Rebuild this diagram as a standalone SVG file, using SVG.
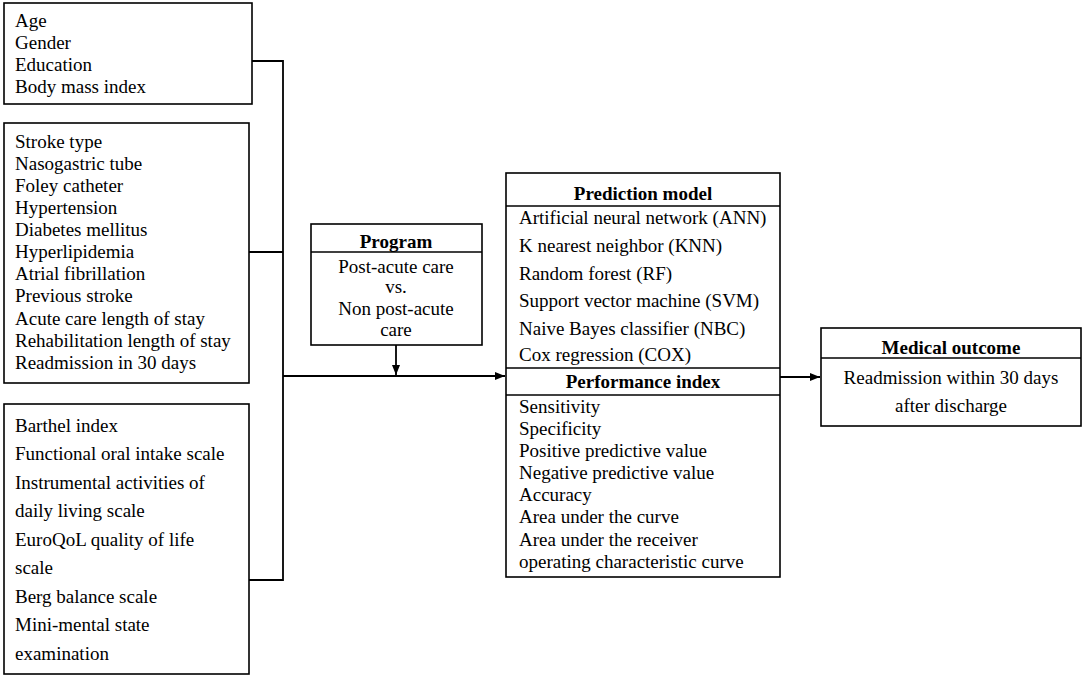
<svg xmlns="http://www.w3.org/2000/svg" width="1084" height="678" viewBox="0 0 1084 678">
<style>
rect.box{fill:#fff;stroke:#000;stroke-width:1.6}
line.div{stroke:#000;stroke-width:1.6}
text{font-family:"Liberation Serif","Times New Roman",serif;font-size:19px;fill:#000}
text.h{font-weight:bold;text-anchor:middle}
text.c{text-anchor:middle}
.conn{stroke:#000;stroke-width:1.8;fill:none}
</style>
<defs>
<marker id="arr" viewBox="0 0 10 10" refX="10" refY="5" markerWidth="10" markerHeight="10" markerUnits="userSpaceOnUse" orient="auto">
<path d="M0,1 L10,5 L0,9 Z" fill="#000"/>
</marker>
</defs>
<g id="connectors">
<polyline class="conn" points="252,61 283,61 283,580 249,580"/>
<line class="conn" x1="249" y1="252" x2="283" y2="252"/>
<line class="conn" x1="283" y1="376" x2="505" y2="376" marker-end="url(#arr)"/>
<line class="conn" x1="396" y1="345" x2="396" y2="375" marker-end="url(#arr)"/>
<line class="conn" x1="780" y1="377" x2="820" y2="377" marker-end="url(#arr)"/>
</g>
<g id="demographics">
<rect class="box" x="4" y="3" width="248" height="101"/>
<text x="15" y="27">Age</text>
<text x="15" y="49">Gender</text>
<text x="15" y="71">Education</text>
<text x="15" y="93">Body mass index</text>
</g>
<g id="clinical">
<rect class="box" x="4" y="123" width="245" height="260"/>
<text x="15" y="148">Stroke type</text>
<text x="15" y="170">Nasogastric tube</text>
<text x="15" y="192">Foley catheter</text>
<text x="15" y="214">Hypertension</text>
<text x="15" y="236">Diabetes mellitus</text>
<text x="15" y="258">Hyperlipidemia</text>
<text x="15" y="280">Atrial fibrillation</text>
<text x="15" y="302">Previous stroke</text>
<text x="15" y="325">Acute care length of stay</text>
<text x="15" y="347">Rehabilitation length of stay</text>
<text x="15" y="369">Readmission in 30 days</text>
</g>
<g id="functional">
<rect class="box" x="4" y="404" width="245" height="270"/>
<text x="15" y="432">Barthel index</text>
<text x="15" y="460">Functional oral intake scale</text>
<text x="15" y="489">Instrumental activities of</text>
<text x="15" y="517">daily living scale</text>
<text x="15" y="546">EuroQoL quality of life</text>
<text x="15" y="574">scale</text>
<text x="15" y="603">Berg balance scale</text>
<text x="15" y="631">Mini-mental state</text>
<text x="15" y="660">examination</text>
</g>
<g id="program">
<rect class="box" x="311" y="224" width="171" height="121"/>
<line class="div" x1="311" y1="252" x2="482" y2="252"/>
<text class="h" x="396" y="248">Program</text>
<text class="c" x="396" y="273">Post-acute care</text>
<text class="c" x="396" y="293">vs.</text>
<text class="c" x="396" y="315">Non post-acute</text>
<text class="c" x="396" y="336">care</text>
</g>
<g id="prediction">
<rect class="box" x="506" y="173" width="274" height="404"/>
<line class="div" x1="506" y1="206" x2="780" y2="206"/>
<line class="div" x1="506" y1="368" x2="780" y2="368"/>
<line class="div" x1="506" y1="395" x2="780" y2="395"/>
<text class="h" x="643" y="200">Prediction model</text>
<text x="519" y="224">Artificial neural network (ANN)</text>
<text x="519" y="252">K nearest neighbor (KNN)</text>
<text x="519" y="280">Random forest (RF)</text>
<text x="519" y="307">Support vector machine (SVM)</text>
<text x="519" y="335">Naive Bayes classifier (NBC)</text>
<text x="519" y="361">Cox regression (COX)</text>
<text class="h" x="643" y="388">Performance index</text>
<text x="519" y="413">Sensitivity</text>
<text x="519" y="435">Specificity</text>
<text x="519" y="457">Positive predictive value</text>
<text x="519" y="479">Negative predictive value</text>
<text x="519" y="501">Accuracy</text>
<text x="519" y="523">Area under the curve</text>
<text x="519" y="546">Area under the receiver</text>
<text x="519" y="568">operating characteristic curve</text>
</g>
<g id="outcome">
<rect class="box" x="821" y="328" width="260" height="98"/>
<line class="div" x1="821" y1="358" x2="1081" y2="358"/>
<text class="h" x="951" y="354">Medical outcome</text>
<text class="c" x="951" y="384">Readmission within 30 days</text>
<text class="c" x="951" y="412">after discharge</text>
</g>
</svg>
